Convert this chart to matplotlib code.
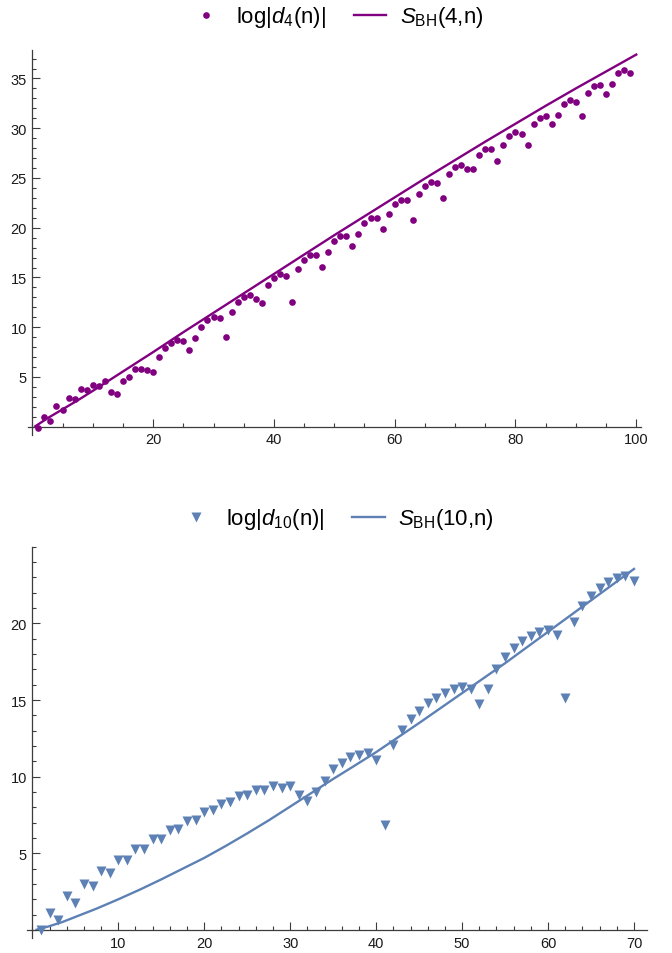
import matplotlib
matplotlib.use("Agg")
import matplotlib.pyplot as plt
from matplotlib.lines import Line2D
from matplotlib.ticker import MultipleLocator, FixedLocator

plt.rcParams['font.family'] = ['Liberation Sans', 'DejaVu Sans']
plt.rcParams['mathtext.fontset'] = 'custom'
plt.rcParams['mathtext.rm'] = 'Liberation Sans'
plt.rcParams['mathtext.it'] = 'Liberation Sans:italic'
plt.rcParams['mathtext.bf'] = 'Liberation Sans:bold'

# ---------------- data: top panel ----------------
n4 = list(range(1, 100))
logd4 = [-0.08, 1.0, 0.57, 2.07, 1.7, 2.9, 2.77, 3.75, 3.65, 4.2,
         4.05, 4.6, 3.47, 3.27, 4.6, 5.0, 5.85, 5.8, 5.68, 5.5,
         7.0, 7.9, 8.4, 8.7, 8.65, 7.75, 8.9, 10.05, 10.7, 11.0,
         10.9, 9.05, 11.5, 12.5, 13.0, 13.2, 12.85, 12.45, 14.2, 14.9,
         15.3, 15.15, 12.5, 15.9, 16.8, 17.25, 17.25, 16.1, 17.6, 18.65,
         19.15, 19.2, 18.2, 19.4, 20.5, 21.0, 21.0, 19.9, 21.35, 22.4,
         22.8, 22.8, 20.8, 23.35, 24.2, 24.6, 24.45, 23.0, 25.4, 26.1,
         26.35, 25.9, 25.9, 27.35, 27.9, 27.9, 26.7, 28.3, 29.25, 29.6,
         29.4, 28.3, 30.4, 31.05, 31.2, 30.4, 31.3, 32.4, 32.8, 32.6,
         31.2, 33.5, 34.2, 34.3, 33.4, 34.45, 35.5, 35.8, 35.55]

sbh4_n = [0.5, 2.5, 5, 7.5, 10, 15, 20, 25, 30, 35, 40, 45, 50, 55, 60, 65, 70,
          75, 80, 85, 90, 95, 100]
sbh4 = [0.05, 0.85, 1.75, 2.65, 3.6, 5.55, 7.5, 9.5, 11.45, 13.4, 15.35, 17.3,
        19.25, 21.15, 23.05, 24.95, 26.8, 28.65, 30.45, 32.25, 34.0, 35.7, 37.4]

# ---------------- data: bottom panel ----------------
n10 = list(range(1, 71))
logd10 = [0.0, 1.09, 0.67, 2.2, 1.76, 3.02, 2.87, 3.87, 3.7, 4.59,
          4.57, 5.28, 5.28, 5.93, 5.96, 6.54, 6.58, 7.13, 7.17, 7.7,
          7.8, 8.23, 8.34, 8.71, 8.8, 9.13, 9.13, 9.37, 9.24, 9.37,
          8.79, 8.4, 8.98, 9.72, 10.52, 10.87, 11.3, 11.41, 11.54, 11.1,
          6.85, 12.07, 13.05, 13.77, 14.3, 14.79, 15.15, 15.48, 15.7, 15.83,
          15.7, 14.72, 15.74, 17.03, 17.8, 18.4, 18.83, 19.2, 19.44, 19.57,
          19.26, 15.15, 20.07, 21.1, 21.8, 22.33, 22.72, 22.98, 23.07, 22.77]

sbh10_n = [0.5, 2, 3.5, 5, 7.5, 10, 12.5, 15, 17.5, 20, 22.5, 25, 27.5, 30,
           32.5, 35, 37.5, 40, 45, 50, 55, 60, 65, 70]
sbh10 = [0.02, 0.25, 0.52, 0.85, 1.4, 2.0, 2.63, 3.3, 4.0, 4.7, 5.48, 6.3,
         7.15, 8.05, 8.95, 9.85, 10.72, 11.6, 13.5, 15.45, 17.4, 19.45, 21.5,
         23.55]

purple = '#800080'
blue = '#5E81B5'
axcol = '#3c3c3c'

W, H = 672, 954
fig = plt.figure(figsize=(W / 100, H / 100), dpi=100)


def add_ax(left, right, top, bottom):
    return fig.add_axes([left / W, 1 - bottom / H, (right - left) / W, (bottom - top) / H])


def style(ax, xmaj, xmin, ymaj, ymin):
    for s in ['top', 'right']:
        ax.spines[s].set_visible(False)
    ax.spines['left'].set_position(('data', 0))
    ax.spines['bottom'].set_position(('data', 0))
    for s in ['left', 'bottom']:
        ax.spines[s].set_color(axcol)
        ax.spines[s].set_linewidth(0.9)
    ax.xaxis.set_major_locator(FixedLocator(xmaj))
    ax.xaxis.set_minor_locator(MultipleLocator(xmin))
    ax.yaxis.set_major_locator(FixedLocator(ymaj))
    ax.yaxis.set_minor_locator(MultipleLocator(ymin))
    ax.tick_params(which='both', direction='in', color=axcol, width=0.8,
                   labelsize=10.5, labelcolor='#1a1a1a')
    ax.tick_params(which='major', length=5.5, pad=4)
    ax.tick_params(which='minor', length=3)
    ax.patch.set_alpha(0)


leg_kw = dict(loc='center', ncol=2, frameon=False, fontsize=16,
              handlelength=1.45, handletextpad=0.62, columnspacing=1.25)

# top panel
ax1 = add_ax(28.1, 641.1, 50.6, 435.7)
ax1.plot(sbh4_n, sbh4, color=purple, lw=1.7, zorder=2)
ax1.plot(n4, logd4, 'o', color=purple, ms=4.8, mec='none', zorder=3)
ax1.set_xlim(-0.7, 100.8)
ax1.set_ylim(-0.8, 37.9)
style(ax1, [20, 40, 60, 80, 100], 5, [5, 10, 15, 20, 25, 30, 35], 1)

h1 = [Line2D([], [], ls='none', marker='o', color=purple, ms=4.8, mec='none'),
      Line2D([], [], color=purple, lw=1.7)]
fig.legend(h1, [r'log|$d_4$(n)|', r'$S_{\mathrm{BH}}$(4,n)'],
           bbox_to_anchor=(337 / W, 1 - 18 / H), **leg_kw)

# bottom panel
ax2 = add_ax(27.2, 646.9, 547.7, 939.4)
ax2.plot(sbh10_n, sbh10, color=blue, lw=1.7, zorder=2)
ax2.plot(n10, logd10, 'v', color=blue, ms=6.5, mec='none', zorder=3)
ax2.set_xlim(-0.6, 71.5)
ax2.set_ylim(-0.55, 25.0)
style(ax2, [10, 20, 30, 40, 50, 60, 70], 2, [5, 10, 15, 20], 1)

h2 = [Line2D([], [], ls='none', marker='v', color=blue, ms=6.5, mec='none'),
      Line2D([], [], color=blue, lw=1.7)]
fig.legend(h2, [r'log|$d_{10}$(n)|', r'$S_{\mathrm{BH}}$(10,n)'],
           bbox_to_anchor=(337 / W, 1 - 520 / H), **leg_kw)

fig.savefig('out.png', dpi=100, facecolor='white')
